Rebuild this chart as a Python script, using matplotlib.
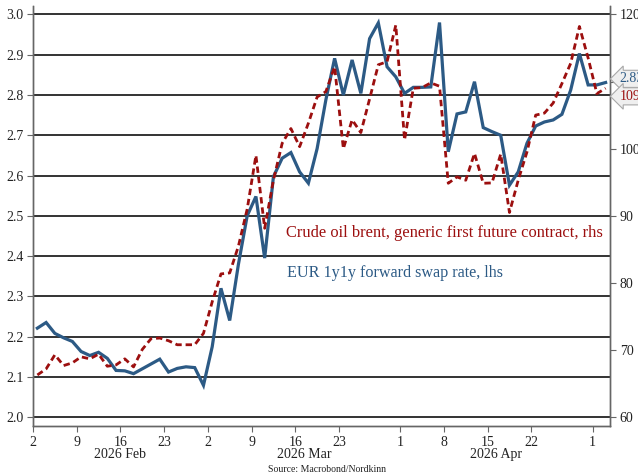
import numpy as np
import pandas as pd
import matplotlib
matplotlib.use("Agg")
import matplotlib.pyplot as plt

# --- data (business days from 2026-02-02) ---
start_date = "2026-02-02"

eur_1y1y = [2.221, 2.235, 2.208, 2.197, 2.188, 2.163, 2.153, 2.161, 2.146, 2.116,
            2.115, 2.108, 2.120, 2.132, 2.144, 2.112, 2.121, 2.125, 2.123, 2.079,
            2.175, 2.320, 2.240, 2.380, 2.500, 2.548, 2.395, 2.597, 2.643, 2.657,
            2.609, 2.581, 2.667, 2.788, 2.891, 2.800, 2.887, 2.804, 2.940, 2.979,
            2.870, 2.845, 2.804, 2.819, 2.819, 2.820, 2.980, 2.659, 2.753, 2.758,
            2.833, 2.719, 2.709, 2.700, 2.576, 2.609, 2.680, 2.723, 2.733, 2.738,
            2.752, 2.812, 2.903, 2.825, 2.825, 2.831]

brent = [66.3, 67.2, 69.3, 67.7, 68.1, 69.0, 68.7, 69.4, 67.6, 67.8,
         68.7, 67.5, 70.1, 71.7, 71.8, 71.4, 70.8, 70.8, 70.8, 72.5,
         77.2, 81.35, 81.5, 85.5, 91.0, 99.0, 88.15, 95.3, 100.8, 103.0,
         100.3, 103.8, 107.7, 108.5, 112.2, 100.0, 104.3, 102.4, 107.4, 112.5,
         112.95, 118.4, 101.3, 109.0, 109.1, 109.8, 109.3, 94.85, 95.8, 95.3,
         99.3, 94.85, 94.9, 99.2, 90.5, 95.3, 99.5, 105.0, 105.3, 106.8,
         109.7, 112.7, 118.2, 113.5, 108.2, 109.0]

tick_dates = ["2026-02-02", "2026-02-09", "2026-02-16", "2026-02-23",
              "2026-03-02", "2026-03-09", "2026-03-16", "2026-03-23",
              "2026-04-01", "2026-04-08", "2026-04-15", "2026-04-22",
              "2026-05-01"]
months = ["2026 Feb", "2026 Mar", "2026 Apr"]
month_bounds = [("2026-02-02", "2026-03-02"), ("2026-03-02", "2026-04-01"),
                ("2026-04-01", "2026-05-01")]

dates = pd.bdate_range(start_date, periods=len(eur_1y1y))
pos = {d: i for i, d in enumerate(dates)}
x = np.arange(len(dates)) + 0.5

BLUE = "#2c5a85"
RED = "#9c0f0f"
SERIF = "Liberation Serif"
plt.rcParams["font.family"] = SERIF

fig = plt.figure(figsize=(6.38, 4.75), dpi=100)
ax = fig.add_axes([33 / 638, 49 / 475, 577 / 638, 420 / 475])
ax2 = ax.twinx()

ax.plot(x, eur_1y1y, color=BLUE, lw=2.3, solid_joinstyle="miter", zorder=3)
ax2.plot(x, brent, color=RED, lw=2.0, linestyle=(0, (2.3, 1.4)), zorder=3)

ax.set_xlim(0, len(dates))
ax.set_ylim(1.978, 3.021)
ax2.set_ylim(58.7, 121.25)
ax.set_yticks(np.arange(2.0, 3.01, 0.1))
ax.set_yticklabels([f"{v:.1f}" for v in np.arange(2.0, 3.01, 0.1)])
ax2.set_yticks(np.arange(60, 121, 10))

ax.yaxis.grid(True, color="#111111", lw=1.2)
ax.set_axisbelow(True)

ax.set_xticks([pos[pd.Timestamp(d)] for d in tick_dates])
ax.set_xticklabels([str(pd.Timestamp(d).day) for d in tick_dates])

for a in (ax, ax2):
    a.spines["top"].set_visible(False)
    for s in ("left", "right", "bottom"):
        a.spines[s].set_color("#666666")
        a.spines[s].set_linewidth(1.0)
    a.tick_params(colors="#222222", labelsize=10, length=4, width=0.8,
                  pad=3)
ax.tick_params(axis="both", color="#666666")
ax2.tick_params(axis="y", color="#666666")

# month labels below ticks
for label, (a, b) in zip(months, month_bounds):
    xm = (pos[pd.Timestamp(a)] + pos[pd.Timestamp(b)]) / 2
    ax.text(xm, -0.077, label, transform=ax.get_xaxis_transform(),
            ha="center", va="baseline", fontsize=10, color="#222222")

# in-chart legend texts
ax.text(0.4385, 0.45, "Crude oil brent, generic first future contract, rhs",
        transform=ax.transAxes, color=RED, fontsize=11.9, va="baseline")
ax.text(0.44, 0.355, "EUR 1y1y forward swap rate, lhs",
        transform=ax.transAxes, color=BLUE, fontsize=11.6, va="baseline")

# last-value tags on the right (drawn on ax2 so they cover its tick labels)
tag_kw = dict(transform=ax2.get_yaxis_transform(), fontsize=10, va="center",
              ha="left", clip_on=False, zorder=10)
ax2.text(1.0165, 110.4, f"{eur_1y1y[-1]:.2f}", color=BLUE,
         bbox=dict(boxstyle="larrow,pad=0.15", fc="#efefef", ec="#a8a8a8",
                   lw=0.8), **tag_kw)
ax2.text(1.0165, 107.8, f"{brent[-1]:.0f}", color=RED,
         bbox=dict(boxstyle="larrow,pad=0.15", fc="#efefef", ec="#a8a8a8",
                   lw=0.8), **tag_kw)

fig.text(327 / 638, 3 / 475, "Source: Macrobond/Nordkinn", ha="center",
         va="baseline", fontsize=7, color="#222222")

fig.savefig("out.png", dpi=100)
